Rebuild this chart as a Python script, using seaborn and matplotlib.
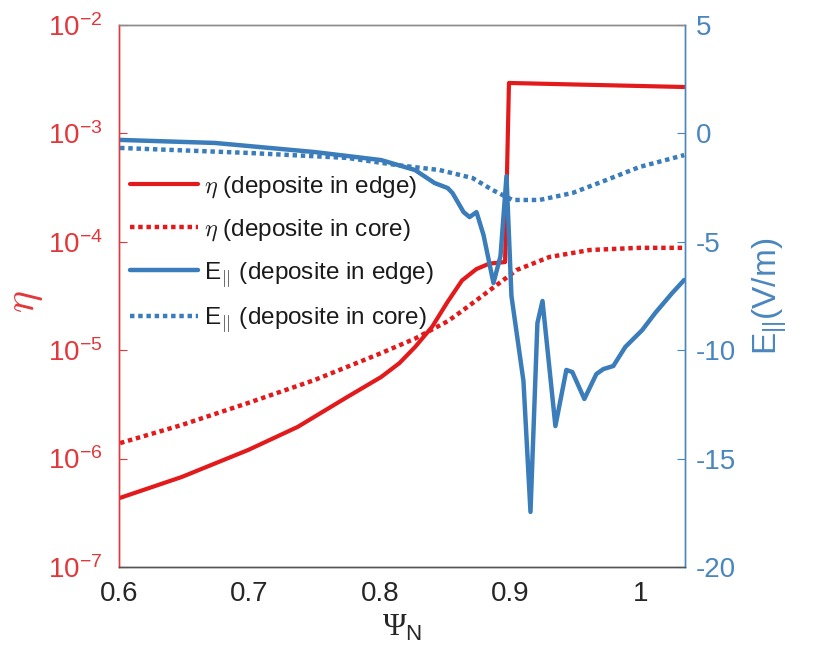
import matplotlib
matplotlib.use("Agg")
import matplotlib.pyplot as plt
import matplotlib.ticker as mticker
from matplotlib.font_manager import FontProperties
import numpy as np
import pandas as pd
import seaborn as sns

# eta, heating deposited in the edge (left axis, log scale)
psi_eta_edge = [0.6008, 0.648, 0.699, 0.737, 0.775, 0.801, 0.815, 0.827, 0.840,
                0.852, 0.863, 0.874, 0.884, 0.896, 0.899, 1.0334]
eta_edge = [4.34e-7, 6.76e-7, 1.20e-6, 1.96e-6, 3.70e-6, 5.66e-6, 7.6e-6, 1.07e-5,
            1.64e-5, 2.8e-5, 4.4e-5, 5.6e-5, 6.3e-5, 6.5e-5, 2.92e-3, 2.68e-3]

# eta, heating deposited in the core
psi_eta_core = [0.6008, 0.648, 0.699, 0.750, 0.801, 0.827, 0.852, 0.863, 0.879,
                0.905, 0.930, 0.961, 0.999, 1.0334]
eta_core = [1.39e-6, 2.04e-6, 3.26e-6, 5.31e-6, 9.4e-6, 1.28e-5, 1.85e-5, 2.3e-5,
            3.2e-5, 5.50e-5, 7.24e-5, 8.4e-5, 8.8e-5, 8.8e-5]

# parallel electric field, heating deposited in the edge (right axis, V/m)
psi_e_edge = [0.6008, 0.6735, 0.750, 0.801, 0.827, 0.842, 0.852, 0.8557, 0.8642,
              0.8688, 0.8741, 0.8795, 0.8871, 0.8925, 0.8971, 0.9009, 0.9101,
              0.9155, 0.9208, 0.9247, 0.9346, 0.9430, 0.9476, 0.9568, 0.9660,
              0.9714, 0.9790, 0.9882, 1.0012, 1.0112, 1.0242, 1.0334]
e_edge = [-0.30, -0.44, -0.86, -1.23, -1.69, -2.29, -2.52, -2.75, -3.63,
          -3.86, -3.63, -4.69, -6.90, -5.66, -1.97, -7.50, -11.42,
          -17.46, -8.75, -7.73, -13.50, -10.91, -11.01, -12.25, -11.10,
          -10.87, -10.73, -9.85, -9.07, -8.28, -7.36, -6.76]

# parallel electric field, heating deposited in the core
psi_e_core = [0.6008, 0.699, 0.775, 0.813, 0.8458, 0.8711, 0.8864, 0.9017,
              0.9224, 0.9476, 0.9737, 0.9990, 1.0334]
e_core = [-0.67, -0.90, -1.13, -1.46, -1.69, -2.06, -2.61, -3.07,
          -3.07, -2.75, -2.15, -1.55, -1.00]

labels = [r"$\eta$ (deposite in edge)", r"$\eta$ (deposite in core)",
          r"E$_{||}$ (deposite in edge)", r"E$_{||}$ (deposite in core)"]

RED = "#E31A1C"
RED_AX = "#E0383B"
BLUE = "#3A7DBA"
BLUE_AX = "#4A86BE"
DOT = (0, (1.0, 0.85))

sns.set_style("white")
plt.rcParams["font.family"] = ["Liberation Sans", "DejaVu Sans"]
plt.rcParams["mathtext.fontset"] = "custom"
plt.rcParams["mathtext.rm"] = "Liberation Sans"
plt.rcParams["mathtext.it"] = "Liberation Sans:italic"
plt.rcParams["mathtext.bf"] = "Liberation Sans:bold"
plt.rcParams["axes.unicode_minus"] = False

fig = plt.figure(figsize=(8.13, 6.69), dpi=100)
ax = fig.add_axes([0.1464, 0.1525, 0.6962, 0.8101])
ax2 = ax.twinx()

df_ee = pd.DataFrame({"psi": psi_eta_edge, "val": eta_edge})
df_ec = pd.DataFrame({"psi": psi_eta_core, "val": eta_core})
df_fe = pd.DataFrame({"psi": psi_e_edge, "val": e_edge})
df_fc = pd.DataFrame({"psi": psi_e_core, "val": e_core})

sns.lineplot(data=df_ee, x="psi", y="val", ax=ax, color=RED, lw=3.0,
             sort=False, legend=False, label=labels[0])
sns.lineplot(data=df_ec, x="psi", y="val", ax=ax, color=RED, lw=3.2,
             linestyle=DOT, sort=False, legend=False, label=labels[1])
sns.lineplot(data=df_fe, x="psi", y="val", ax=ax2, color=BLUE, lw=3.2,
             sort=False, legend=False, label=labels[2])
sns.lineplot(data=df_fc, x="psi", y="val", ax=ax2, color=BLUE, lw=3.2,
             linestyle=DOT, sort=False, legend=False, label=labels[3])

# left axis: eta on a log scale
ax.set_yscale("log")
ax.set_ylim(1e-7, 1e-2)
ax.yaxis.set_major_locator(mticker.LogLocator(base=10, numticks=10))
ax.yaxis.set_minor_locator(mticker.NullLocator())
ax.set_xlim(0.6, 1.034)
ax.set_xticks([0.6, 0.7, 0.8, 0.9, 1.0])
ax.set_xticklabels(["0.6", "0.7", "0.8", "0.9", "1"])

# right axis: parallel electric field
ax2.set_ylim(-20, 5)
ax2.set_yticks([-20, -15, -10, -5, 0, 5])

ax.tick_params(axis="y", direction="in", length=6, width=0.8, colors=RED_AX,
               labelsize=20, pad=12)
ax.tick_params(axis="x", direction="in", length=6, width=0.8, colors="#555555",
               labelcolor="#262626", labelsize=20, pad=10)
ax2.tick_params(axis="y", direction="in", length=6, width=0.8, colors=BLUE_AX,
                labelsize=20, pad=8)

for a in (ax, ax2):
    a.spines["left"].set_color(RED_AX)
    a.spines["right"].set_color(BLUE_AX)
    a.spines["top"].set_color("#8a8a8a")
    a.spines["bottom"].set_color("#555555")
    for s in a.spines.values():
        s.set_linewidth(1.0)

ax.set_xlabel(r"Ψ$_\mathrm{N}$", fontsize=23, color="#262626", labelpad=4,
              family=["Liberation Serif", "DejaVu Serif"])
ax.set_ylabel(r"$\eta$", fontsize=30, color=RED_AX, math_fontfamily="cm")
ax.yaxis.set_label_coords(-0.13, 0.49)
ax2.set_ylabel(r"E$_{||}$(V/m)", fontsize=24, color=BLUE_AX, labelpad=10)

handles = ax.get_lines() + ax2.get_lines()
leg_font = FontProperties(family=["Liberation Sans", "DejaVu Sans"], size=17.5,
                          math_fontfamily="cm")
leg = ax2.legend(handles=handles, labels=labels, loc="upper left",
                 bbox_to_anchor=(0.02, 0.725), frameon=False, prop=leg_font,
                 handlelength=2.8, handletextpad=0.25, labelspacing=0.7,
                 borderaxespad=0, borderpad=0)
for t in leg.get_texts():
    t.set_color("#1a1a1a")

fig.savefig("out.png", dpi=100, facecolor="white")
